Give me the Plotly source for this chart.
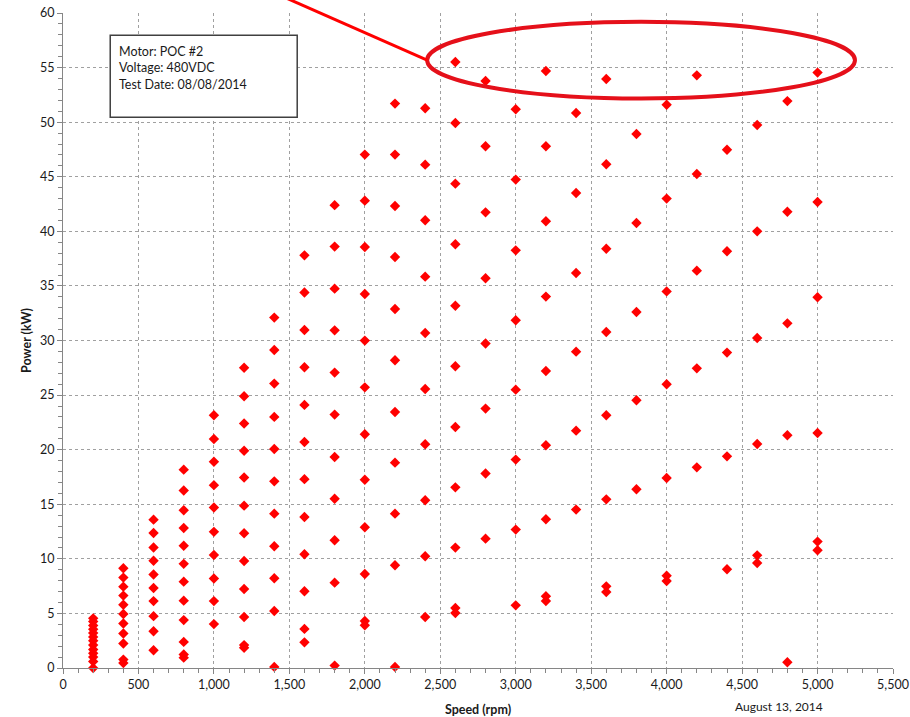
import plotly.graph_objects as go

# Measured power (kW) at each test speed (rpm)
speed_rpm = [200, 400, 600, 800, 1000, 1200, 1400, 1600, 1800, 2000, 2200, 2400,
             2600, 2800, 3000, 3200, 3400, 3600, 3800, 4000, 4200, 4400, 4600, 4800, 5000]

power_kw = {
    200: [0.0, 0.6, 1.0, 1.35, 1.7, 2.1, 2.5, 2.85, 3.2, 3.55, 3.9, 4.25, 4.55],
    400: [9.14, 8.28, 7.45, 6.63, 5.80, 4.94, 4.08, 3.16, 2.24, 0.77, 0.46],
    600: [13.59, 12.36, 11.04, 9.82, 8.56, 7.33, 6.13, 4.75, 3.37, 1.63],
    800: [18.17, 16.26, 14.45, 12.82, 11.20, 9.54, 7.91, 6.17, 4.39, 2.39, 1.23, 0.95],
    1000: [23.15, 20.98, 18.9, 16.75, 14.7, 12.47, 10.35, 8.2, 6.13, 4.02],
    1200: [27.5, 24.9, 22.4, 19.9, 17.45, 14.87, 12.34, 9.8, 7.24, 4.67, 2.1, 1.85],
    1400: [32.1, 29.13, 26.05, 23.0, 20.06, 17.1, 14.14, 11.15, 8.22, 5.22, 0.1],
    1600: [37.8, 34.4, 30.96, 27.55, 24.1, 20.7, 17.3, 13.83, 10.42, 7.03, 3.58, 2.35],
    1800: [42.4, 38.6, 34.75, 30.93, 27.06, 23.21, 19.33, 15.5, 11.7, 7.82, 0.22],
    2000: [47.03, 42.81, 38.57, 34.26, 29.99, 25.71, 21.41, 17.25, 12.89, 8.61, 4.31, 3.91],
    2200: [51.7, 47.03, 42.32, 37.65, 32.89, 28.19, 23.45, 18.81, 14.14, 9.41, 0.1],
    2400: [51.27, 46.11, 41.01, 35.85, 30.69, 25.56, 20.49, 15.36, 10.23, 4.67],
    2600: [55.51, 49.92, 44.37, 38.81, 33.19, 27.64, 22.08, 16.55, 11.03, 5.5, 5.04],
    2800: [53.77, 47.79, 41.74, 35.7, 29.72, 23.76, 17.81, 11.85],
    3000: [51.18, 44.74, 38.26, 31.85, 25.5, 19.09, 12.68, 5.74],
    3200: [54.69, 47.79, 40.92, 34.02, 27.21, 20.4, 13.62, 6.57, 6.14],
    3400: [50.84, 43.51, 36.18, 28.98, 21.74, 14.51],
    3600: [53.96, 46.14, 38.41, 30.78, 23.15, 15.45, 7.48, 6.96],
    3800: [48.92, 40.77, 32.61, 24.52, 16.37],
    4000: [51.6, 43.0, 34.5, 25.99, 17.4, 8.46, 7.97],
    4200: [54.29, 45.25, 36.4, 27.45, 18.38],
    4400: [47.48, 38.17, 28.89, 19.39, 9.04],
    4600: [49.74, 40.0, 30.23, 20.52, 10.32, 9.62],
    4800: [51.93, 41.8, 31.57, 21.32, 0.52],
    5000: [54.54, 42.69, 33.96, 21.53, 11.58, 10.78],
}

info_lines = ["Motor: POC #2", "Voltage: 480VDC", "Test Date: 08/08/2014"]
report_date = "August 13, 2014"

x_range = [0, 5500]
y_range = [0, 60]

xs, ys = [], []
for s in speed_rpm:
    for p in power_kw[s]:
        xs.append(s)
        ys.append(p)

W, H = 910, 717
ML, MR, MT, MB = 63, 17, 13, 49
FONT = "Lato, 'Open Sans', sans-serif"
TXT = "#1a1a1a"


def to_paper_x(v):
    return (v - x_range[0]) / (x_range[1] - x_range[0])


def to_paper_y(v):
    return (v - y_range[0]) / (y_range[1] - y_range[0])


fig = go.Figure()
fig.add_trace(go.Scatter(
    x=xs, y=ys, mode="markers",
    marker=dict(symbol="diamond", size=8, color="#FF0000", line=dict(width=0)),
    showlegend=False, cliponaxis=False,
))

# Highlight of the peak-power points
ell = dict(x0=2413, x1=5248, y0=52.17, y1=59.19)
fig.add_shape(type="circle", xref="x", yref="y",
              x0=ell["x0"], x1=ell["x1"], y0=ell["y0"], y1=ell["y1"],
              line=dict(color="#E5101A", width=4), layer="above")

# Leader line from the highlight, running off the top of the page
lx = to_paper_x(ell["x0"])
ly = to_paper_y((ell["y0"] + ell["y1"]) / 2)
plot_w = W - ML - MR
plot_h = H - MT - MB
fig.add_shape(type="line", xref="paper", yref="paper",
              x0=lx, y0=ly, x1=lx - 152 / plot_w, y1=ly + 67 / plot_h,
              line=dict(color="#FF0000", width=3), layer="above")

# Test information box
fig.add_shape(type="rect", xref="x", yref="y",
              x0=313, x1=1552, y0=50.44, y1=57.96,
              line=dict(color="#404040", width=1.5), fillcolor="white", layer="above")
fig.add_annotation(x=355, y=57.35, xref="x", yref="y", xanchor="left", yanchor="top",
                   text="<br>".join(info_lines), showarrow=False, align="left",
                   font=dict(family=FONT, size=12.5, color=TXT))

fig.add_annotation(x=to_paper_x(4745), y=0, xref="paper", yref="paper",
                   xanchor="center", yanchor="middle", yshift=-38, text=report_date,
                   showarrow=False, font=dict(family=FONT, size=12, color=TXT))

axis_common = dict(
    showgrid=True, gridcolor="#A0A0A0", griddash="3px,3px", gridwidth=1,
    showline=True, linecolor="#868686", linewidth=1,
    ticks="outside", ticklen=5, tickcolor="#868686",
    tickfont=dict(family=FONT, size=12.5, color=TXT),
    zeroline=False, automargin=False,
)

fig.update_xaxes(range=x_range, dtick=500, tickformat=",d",
                 title=dict(text="<b>Speed (rpm)</b>", font=dict(family=FONT, size=12.5, color=TXT), standoff=14),
                 minor=dict(dtick=100, ticks="outside", ticklen=4, tickcolor="#868686", showgrid=False),
                 **axis_common)
fig.update_yaxes(range=y_range, dtick=5,
                 title=dict(text="<b>Power (kW)</b>", font=dict(family=FONT, size=12.5, color=TXT), standoff=5),
                 minor=dict(dtick=1, ticks="outside", ticklen=4, tickcolor="#868686", showgrid=False),
                 **axis_common)

fig.update_layout(
    width=W, height=H,
    margin=dict(l=ML, r=MR, t=MT, b=MB),
    paper_bgcolor="white", plot_bgcolor="white",
    font=dict(family=FONT),
)

fig.write_html("out.html")
